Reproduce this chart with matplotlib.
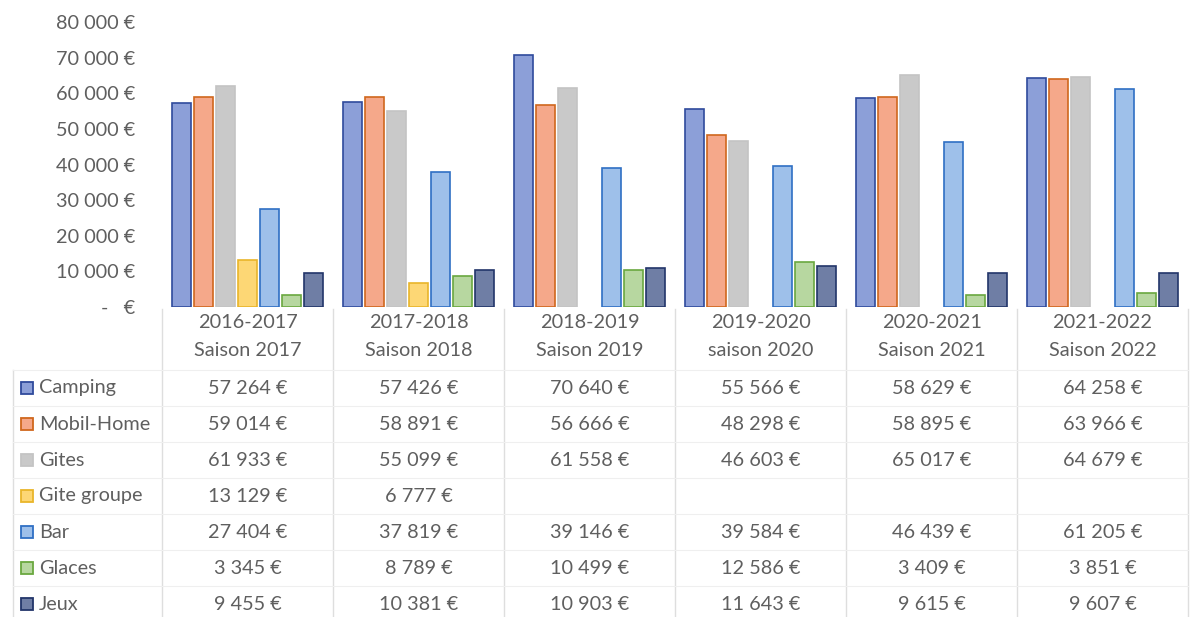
import matplotlib
matplotlib.use("Agg")
import matplotlib.pyplot as plt
from matplotlib.patches import Rectangle
import numpy as np

seasons = ["2016-2017\nSaison 2017", "2017-2018\nSaison 2018", "2018-2019\nSaison 2019",
           "2019-2020\nsaison 2020", "2020-2021\nSaison 2021", "2021-2022\nSaison 2022"]
series = ["Camping", "Mobil-Home", "Gites", "Gite groupe", "Bar", "Glaces", "Jeux"]

camping = [57264, 57426, 70640, 55566, 58629, 64258]
mobil_home = [59014, 58891, 56666, 48298, 58895, 63966]
gites = [61933, 55099, 61558, 46603, 65017, 64679]
gite_groupe = [13129, 6777, None, None, None, None]
bar = [27404, 37819, 39146, 39584, 46439, 61205]
glaces = [3345, 8789, 10499, 12586, 3409, 3851]
jeux = [9455, 10381, 10903, 11643, 9615, 9607]

yticks = [0, 10000, 20000, 30000, 40000, 50000, 60000, 70000, 80000]

values = [camping, mobil_home, gites, gite_groupe, bar, glaces, jeux]
fills = ["#8c9fd8", "#f5a88a", "#c9c9c9", "#fdd775", "#9ec0ea", "#b7d7a0", "#6f7ea5"]
edges = ["#2f4a9c", "#d0671d", "#c4c4c4", "#e9b52a", "#2f6fc4", "#6aa83f", "#22356a"]

TXT = "#5f5f5f"
FONT = "Lato"
FS = 14.3


def euro(v):
    if v is None:
        return ""
    return f"{v:,}".replace(",", " ") + " €"


W, H = 1190, 617
fig = plt.figure(figsize=(W / 100, H / 100), dpi=100)
plt.rcParams["font.family"] = [FONT, "DejaVu Sans"]

# chart area in pixels
x0, x1, ytop, ybot = 162, 1188, 22, 307
ax = fig.add_axes([x0 / W, 1 - ybot / H, (x1 - x0) / W, (ybot - ytop) / H])

n = len(seasons)
x = np.arange(n)
slot = 0.9 / len(series)
for i, (name, vals) in enumerate(zip(series, values)):
    pos = [x[k] - 0.45 + slot * (i + 0.5) for k in range(n) if vals[k] is not None]
    heights = [v for v in vals if v is not None]
    ax.bar(pos, heights, width=slot * 0.9, color=fills[i], edgecolor=edges[i],
           linewidth=1.2, label=name)

ax.set_xlim(-0.5, n - 0.5)
ax.set_ylim(0, 80000)
ax.set_yticks(yticks)
ax.set_yticklabels(["-   €" if t == 0 else euro(t) for t in yticks])
ax.tick_params(axis="y", length=0, pad=19, labelsize=FS, labelcolor=TXT)
ax.set_xticks([])
for s in ax.spines.values():
    s.set_visible(False)

# data table below the chart
tab = fig.add_axes([0, 0, 1, 1 - ybot / H])
unit = (x1 - x0) / n
tab.set_xlim(-0.5 - x0 / unit, -0.5 + (W - x0) / unit)
tab.set_ylim(H, ybot)
tab.axis("off")


def px(p):
    return -0.5 + (p - x0) / unit


line_col = "#dedede"
row_y = [388 + 36 * k for k in range(len(series))]
# vertical dividers
for k in range(n + 1):
    tab.plot([k - 0.5, k - 0.5], [ybot + 2, H], color=line_col, lw=1.0)
tab.plot([px(13), px(13)], [370, H], color=line_col, lw=1.0)
# horizontal separators
for yy in [370] + [r + 18 for r in row_y[:-1]]:
    tab.plot([px(13), n - 0.5], [yy, yy], color="#efefef", lw=0.8)

# header
for k, s in enumerate(seasons):
    top, bottom = s.split("\n")
    tab.text(k, 323, top, ha="center", va="center", fontsize=FS, color=TXT)
    tab.text(k, 350, bottom, ha="center", va="center", fontsize=FS, color=TXT)

# legend keys + values
for i, (name, vals) in enumerate(zip(series, values)):
    yy = row_y[i]
    tab.add_patch(Rectangle((px(21), yy - 6), 12 / unit, 12, facecolor=fills[i],
                            edgecolor=edges[i], lw=1.3))
    tab.text(px(39), yy, name, ha="left", va="center", fontsize=FS, color=TXT)
    for k, v in enumerate(vals):
        tab.text(k, yy, euro(v), ha="center", va="center", fontsize=FS, color=TXT)

fig.savefig("out.png", dpi=100)
